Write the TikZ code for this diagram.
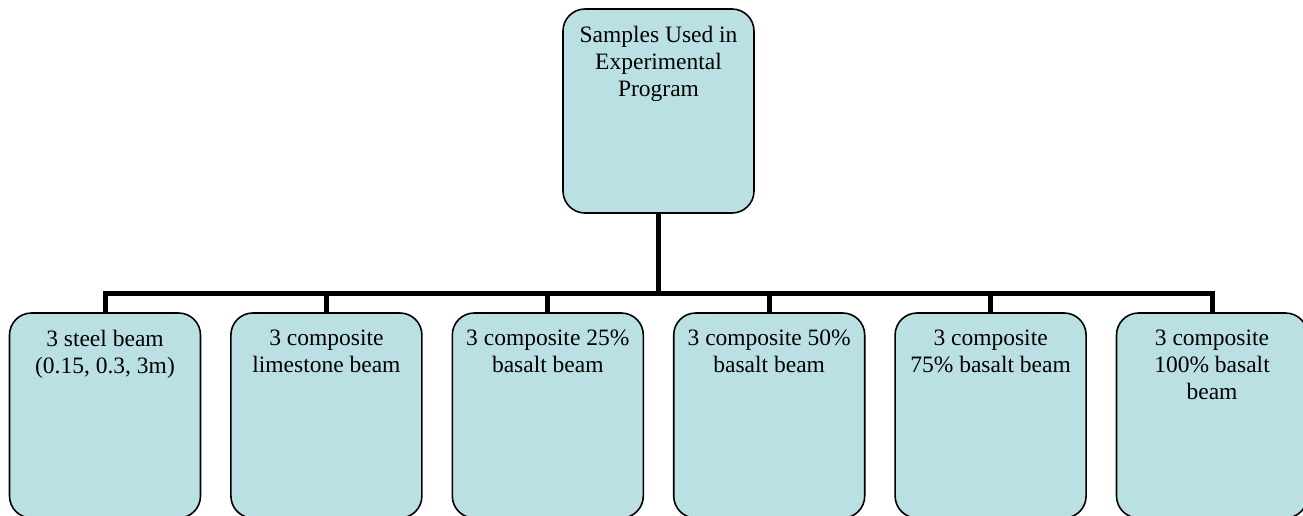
\documentclass[tikz,border=0pt]{standalone}
\usepackage{fontspec}
\setmainfont{Liberation Serif}
\definecolor{boxfill}{RGB}{187,224,227}
\begin{document}
\begin{tikzpicture}[x=1pt,y=-1pt,
  box/.style={draw=black, line width=1.6pt, fill=boxfill, rounded corners=22pt,
              minimum width=191pt, inner sep=0pt, outer sep=0pt},
  topbox/.style={box, minimum height=204pt},
  leafbox/.style={box, minimum height=205pt},
  txt/.style={anchor=north, align=center, inner sep=0pt,
              font=\fontsize{23.5pt}{27pt}\selectfont},
  conn/.style={draw=black, line width=5pt, line join=miter}]
  \clip (0,0) rectangle (1303,515);

  % root and the six sample groups
  \node[topbox] (root) at (658.5,111) {};
  \node[txt] at ([yshift=-17pt]root.north) {Samples Used in\\Experimental\\Program};

  \foreach \i/\x in {1/105,2/326.4,3/547.8,4/769.2,5/990.6,6/1212}
    \node[leafbox] (b\i) at (\x,415.5) {};

  \node[txt] at ([yshift=-17pt]b1.north) {3 steel beam\\(0.15, 0.3, 3m)};
  \node[txt] at ([yshift=-17pt]b2.north) {3 composite\\limestone beam};
  \node[txt] at ([yshift=-17pt]b3.north) {3 composite 25\%\\basalt beam};
  \node[txt] at ([yshift=-17pt]b4.north) {3 composite 50\%\\basalt beam};
  \node[txt] at ([yshift=-17pt]b5.north) {3 composite\\75\% basalt beam};
  \node[txt] at ([yshift=-17pt]b6.north) {3 composite\\100\% basalt\\beam};

  % tree connectors
  \coordinate (bus) at (658.5,293);
  \draw[conn] (root.south) -- (bus);
  \draw[conn] (b1.north) -- (b1.north |- bus) -- (b6.north |- bus) -- (b6.north);
  \foreach \i in {2,...,5}
    \draw[conn] (b\i.north) -- (b\i.north |- bus);
\end{tikzpicture}
\end{document}
